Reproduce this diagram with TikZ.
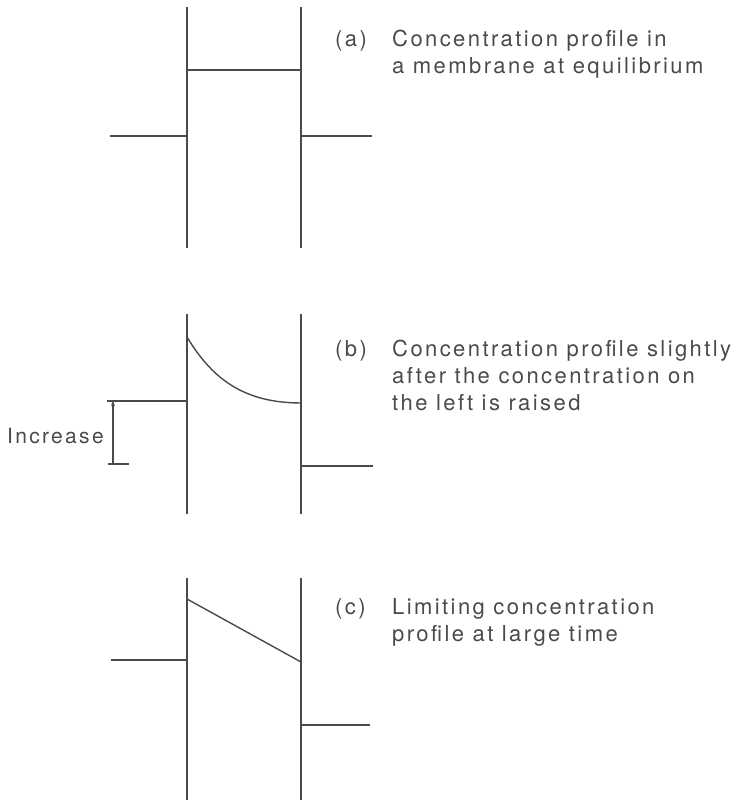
\documentclass[tikz,border=0pt]{standalone}
\usepackage{fontspec}
\setmainfont[LetterSpace=11]{TeX Gyre Heros}
\usetikzlibrary{arrows.meta}
\definecolor{ink}{HTML}{4A4A4A}
\tikzset{
  wall/.style={ink,line width=1.6pt},
  level/.style={ink,line width=1.4pt},
  caption/.style={inner sep=0pt,anchor=base west,align=left,text=ink,
    font=\fontsize{22}{27}\selectfont},
}
\begin{document}
\begin{tikzpicture}[x=1pt,y=1pt]
  \useasboundingbox (0,0) rectangle (738,810);
  % (a) equilibrium
  \draw[wall] (187,803) -- (187,562);
  \draw[wall] (301,803) -- (301,562);
  \draw[level] (187,740) -- (301,740);
  \draw[level] (110,674) -- (187,674);
  \draw[level] (301,674) -- (372,674);
  \node[caption] (labA) at (335,763) {(a)};
  \node[caption] (txtA) at (392,736) {Concentration profile in\\a membrane at equilibrium};
  % (b) shortly after the step
  \draw[wall] (187,496) -- (187,296);
  \draw[wall] (301,496) -- (301,296);
  \draw[level] (187,473) .. controls (210,435) and (240,407) .. (301,407);
  \draw[level] (107,409) -- (187,409);
  \draw[level] (301,344) -- (373,344);
  \draw[level] (108,346) -- (129,346);
  \draw[ink,line width=1.2pt,-{Stealth[length=5pt,width=4pt]}] (113,346) -- (113,409);
  \node[caption,font=\fontsize{21}{27}\selectfont] (labInc) at (7,366) {Increase};
  \node[caption] (labB) at (335,453) {(b)};
  \node[caption] (txtB) at (392,399) {Concentration profile slightly\\after the concentration on\\the left is raised};
  % (c) steady state
  \draw[wall] (187,232) -- (187,10);
  \draw[wall] (301,232) -- (301,10);
  \draw[level] (187,211) -- (301,148);
  \draw[level] (111,150) -- (187,150);
  \draw[level] (301,85) -- (370,85);
  \node[caption] (labC) at (335,195) {(c)};
  \node[caption] (txtC) at (392,168) {Limiting concentration\\profile at large time};
\end{tikzpicture}
\end{document}
